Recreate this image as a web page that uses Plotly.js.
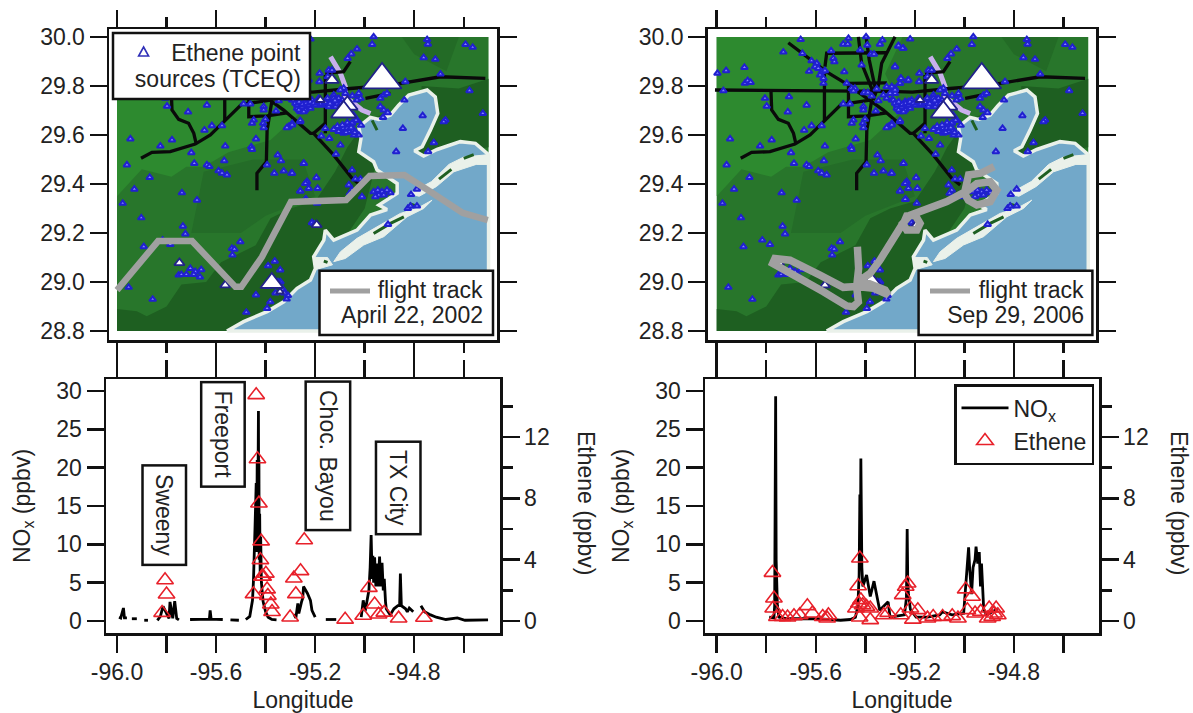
<!DOCTYPE html>
<html><head><meta charset="utf-8">
<script src="https://cdn.plot.ly/plotly-3.0.1.min.js"></script>
<style>html,body{margin:0;padding:0;background:#fff}</style></head>
<body><div id="chart" style="width:1193px;height:713px"></div>
<script>
// ---------- map geography (lon / lat) ----------
const baseLon=[-96,-94.5,-94.5,-96,-96], baseLat=[30,30,28.8,28.8,30];
const lightLon=[-96,-95.25,-95.32,-95.25,-95.38,-95.55,-95.65,-95.72,-95.78,-95.9,-96,-96];
const lightLat=[30,30,29.85,29.7,29.58,29.53,29.47,29.47,29.43,29.46,29.35,30];
const shadeLon=[-95.65,-95.45,-95.25,-95.2,-95.4,-95.5,-95.7,-95.65];
const shadeLat=[29.45,29.5,29.5,29.35,29.27,29.2,29.2,29.45];
const darkLon=[-96,-96,-95.92,-95.88,-95.8,-95.74,-95.64,-95.58,-95.44,-95.38,-95.3,-95.2,-95.12,-95.07,-95.0,-94.9,-95,-95.2,-95.56,-96];
const darkLat=[28.8,28.89,28.88,28.86,28.9,28.99,29,29.08,29.15,29.26,29.3,29.33,29.45,29.55,29.65,29.7,29.3,29,28.8,28.8];
const eastLon=[-94.77,-94.62,-94.5,-94.5,-94.8,-94.77];
const eastLat=[29.8,29.79,29.83,29.55,29.5,29.8];
const neLon=[-94.85,-94.62,-94.67,-94.8,-94.85];
const neLat=[30,30,29.86,29.93,30];
const waterLon=[-95.556,-95.489,-95.394,-95.327,-95.273,-95.219,-95.199,-95.206,-95.165,-95.159,-95.125,-95.031,-94.977,-94.91,-94.943,-94.869,-94.869,-94.95,-94.964,-95.024,-95.015,-95.024,-94.977,-94.943,-94.896,-94.863,-94.822,-94.748,-94.715,-94.705,-94.735,-94.768,-94.799,-94.762,-94.708,-94.614,-94.553,-94.517,-94.5,-94.5,-95.556];
const waterLat=[28.8,28.838,28.879,28.919,28.974,29.008,29.055,29.103,29.171,29.212,29.171,29.212,29.273,29.296,29.314,29.362,29.402,29.457,29.491,29.532,29.586,29.634,29.672,29.664,29.682,29.722,29.763,29.784,29.756,29.688,29.62,29.552,29.536,29.514,29.541,29.573,29.566,29.532,29.52,28.8,28.8];
const galvestonLon=[-94.728,-94.789,-94.856,-94.95,-95.031,-95.098,-95.125,-95.078,-95.004,-94.923,-94.829,-94.762,-94.728];
const galvestonLat=[29.334,29.3,29.28,29.225,29.178,29.123,29.083,29.096,29.151,29.185,29.266,29.3,29.334];
const bolivarLon=[-94.5,-94.6,-94.66,-94.73,-94.82,-94.78,-94.71,-94.64,-94.55,-94.5,-94.5];
const bolivarLat=[29.52,29.51,29.48,29.41,29.36,29.35,29.39,29.45,29.48,29.48,29.52];
const sanLuisLon=[-95.2,-95.15,-95.13,-95.2,-95.2], sanLuisLat=[29.1,29.1,29.07,29.05,29.1];
const islandLon=[-94.842,-94.896,-94.964,null,-94.6,-94.56,null,-94.7,-94.65,null,-94.97,-94.95,null,-94.82,-94.79,null,-95.165,-95.15];
const islandLat=[29.266,29.239,29.198,null,29.505,29.52,null,29.42,29.46,null,29.66,29.62,null,29.32,29.31,null,29.085,29.08];
const channelLon=[-95.138,-95.098,-95.078,-95.078,-95.011,-94.977];
const channelLat=[29.92,29.852,29.797,29.756,29.702,29.688];
const roadLon=[-96.007,-95.46,-95.3,-95.21,-95.12,-95.058,-94.896,-94.762,-94.694,-94.513,null,
 -95.711,-95.657,-95.556,-95.468,-95.381,-95.327,-95.219,-95.206,-95.125,-95.051,-95.017,null,
 -95.903,-95.859,-95.785,-95.684,-95.623,-95.563,-95.495,-95.462,-95.381,null,
 -95.781,-95.778,-95.751,-95.711,-95.69,-95.68,null,-95.565,-95.565,null,
 -95.374,-95.394,-95.397,-95.435,-95.435,null,-95.428,-95.415,-95.374,-95.368,null,
 -95.397,-95.384,-95.361,-95.368,null,-95.28,-95.334,-95.347,-95.368,null,
 -95.468,-95.468,-95.394,-95.314,null,-95.468,-95.313,null,-95.563,-95.556,-95.314,null,
 -95.159,-95.159,null,-95.206,-95.159,null,-95.159,-95.085,-95.058,null,-94.997,-94.896];
const roadLat=[29.784,29.781,29.778,29.775,29.782,29.79,29.804,29.828,29.838,29.831,null,
 29.977,29.936,29.858,29.804,29.743,29.702,29.607,29.607,29.518,29.423,29.396,null,
 29.505,29.529,29.532,29.563,29.6,29.661,29.727,29.73,29.743,null,
 29.784,29.702,29.664,29.648,29.607,29.563,null,29.852,29.661,null,
 29.743,29.62,29.491,29.444,29.375,null,30.001,29.893,29.79,29.743,null,
 30.001,29.906,29.797,29.743,null,30.001,29.893,29.804,29.743,null,
 29.811,29.675,29.678,29.691,null,29.811,29.813,null,29.879,29.934,29.936,null,
 29.845,29.607,null,29.607,29.648,null,29.852,29.859,29.9,null,29.75,29.77];
// ---------- ethene point sources ----------
const sourceLon=[-95.997,-95.962,-95.888,-95.886,-95.875,-95.863,-95.973,-95.731,-95.661,-95.654,-95.617,-95.596,-95.603,-95.59,-95.576,-95.583,-95.569,-95.569,-95.627,-95.563,-95.538,-95.529,-95.525,-95.485,-95.489,-95.471,-95.468,-95.397,-95.392,-95.341,-95.331,-95.421,-95.377,-95.365,-95.415,-95.267,-95.246,-95.28,-95.257,-95.26,-95.23,-95.475,-95.455,-95.442,-95.448,-95.405,-95.39,-95.354,-95.374,-95.347,-95.314,-95.293,-95.28,-95.327,-95.314,-95.293,-95.28,-95.267,-95.253,-95.24,-95.226,-95.273,-95.26,-95.24,-95.219,-95.805,-95.798,-95.708,-95.637,-95.713,-95.647,-95.617,-95.576,-95.489,-95.462,-95.408,-95.408,-95.358,-95.448,-95.455,-95.401,-95.41,-95.408,-95.293,-95.307,-95.314,-95.26,-95.946,-95.778,-95.825,-95.439,-95.563,-95.458,-95.455,-95.7,-95.351,-95.338,-95.246,-95.96,-95.688,-95.637,-95.627,-95.567,-95.394,-95.868,-95.59,-95.576,-95.556,-95.365,-95.327,-95.296,-95.233,
 -95.219,-95.266,-95.249,-95.28,-95.031,-95.054,-95.069,-94.964,-94.97,-94.748,-94.745,-94.593,-94.564,-94.762,-94.715,-94.694,-94.836,-94.577,-94.84,-94.523,-94.766,-94.674,-94.681,-94.846,-94.721,-94.873,-94.744,-95.182,-95.256,-95.226,-95.183,-95.145,-95.132,-95.149,-95.293,-95.28,-95.3,-95.26,
 -95.287,-95.273,-95.253,-95.239,-95.226,-95.213,-95.199,-95.186,-95.172,-95.159,-95.145,-95.132,-95.118,-95.105,-95.091,-95.078,-95.085,-95.098,-95.125,-95.266,-95.246,-95.024,-95.017,-95.031,-94.937,-94.923,-94.91,-94.937,-94.923,-94.907,-94.926,-95.125,-95.105,-95.085,-95.064,-95.051,-95.085,-95.064,-95.044,-95.024,-95.044,-95.071,-95.159,-95.175,-95.143,-95.26,-95.293,-95.098,-95.116,-95.246,-95.293,-95.195,-95.233,-95.051,-95.038,-95.017,
 -95.93,-95.738,-95.677,-95.977,-95.902,-95.734,-95.724,-95.816,-95.785,-95.892,-95.536,-95.526,-95.534,-95.502,-95.953,-95.856,-95.478,-95.394,-95.381,-95.394,-95.439,-95.39,-95.363,-95.341,-95.26,-95.24,-95.237,-95.751,-95.704,-95.684,-95.74,-95.72,-95.69,-95.66,-95.665,-95.34,-95.33,-95.31,
 -94.964,-94.947,-94.93,-94.91,-94.896,-94.943,-94.957,-94.923,-95.064,-95.051,-95.06,-95.239,-95.226,-95.26,-95.19,-95.239,-95.192,-95.011,-95.213,-95.203,-94.789,-94.813,-94.826,-94.815,-94.789,-94.906,
 -95.28,-95.265,-95.25,-95.235,-95.22,-95.205,-95.19,-95.175,-95.16,-95.15,-95.14,-95.125,-95.11,-95.095,-95.08,-95.065,-95.05,-95.06,-95.09,-95.12,-95.1,-95.08,-95.06,-95.045,-95.03,-95.11,-95.09,-95.07,-95.05,-95.035,-95.015,-95.055,-95.04,-95.075,-95.36,-95.325,-95.315,-95.35];
const sourceLat=[29.852,29.863,29.876,29.811,29.822,29.815,29.781,29.939,29.99,29.933,29.903,29.893,29.879,29.872,29.858,29.845,29.831,29.811,29.86,29.863,29.944,29.913,29.899,29.858,29.971,29.971,29.995,30.001,29.967,29.971,29.988,29.947,29.93,29.93,29.886,29.963,29.954,29.879,29.831,29.811,29.822,29.811,29.79,29.79,29.78,29.773,29.773,29.788,29.759,29.74,29.797,29.797,29.79,29.763,29.75,29.743,29.77,29.73,29.716,29.722,29.736,29.709,29.695,29.702,29.709,29.75,29.718,29.756,29.722,29.694,29.62,29.638,29.638,29.727,29.727,29.716,29.702,29.698,29.661,29.648,29.664,29.648,29.63,29.648,29.634,29.63,29.654,29.584,29.58,29.555,29.584,29.555,29.552,29.541,29.528,29.518,29.495,29.484,29.478,29.484,29.478,29.471,29.495,29.478,29.427,29.454,29.444,29.437,29.444,29.453,29.444,29.41,
 29.992,29.965,29.954,29.879,29.951,29.931,29.913,30.001,29.97,29.99,29.971,29.97,29.958,29.916,29.909,29.849,29.818,29.781,29.743,29.688,29.679,29.661,29.654,29.627,29.569,29.532,29.532,29.852,29.831,29.825,29.818,29.865,29.865,29.838,29.797,29.784,29.77,29.811,
 29.743,29.722,29.716,29.736,29.722,29.743,29.722,29.75,29.722,29.736,29.716,29.736,29.716,29.75,29.743,29.77,29.791,29.784,29.763,29.702,29.695,29.77,29.75,29.743,29.75,29.763,29.77,29.716,29.702,29.691,29.672,29.623,29.614,29.627,29.641,29.648,29.607,29.614,29.621,29.6,29.6,29.627,29.627,29.596,29.586,29.659,29.641,29.559,29.522,29.484,29.444,29.426,29.407,29.457,29.42,29.42,
 29.379,29.364,29.334,29.321,29.262,29.228,29.196,29.171,29.153,29.144,29.137,29.134,29.11,29.164,28.978,28.929,28.876,28.892,28.919,28.981,28.947,29.066,29.085,29.049,29.371,29.402,29.338,29.028,29.055,29.042,29.03,29.03,29.03,29.05,29.02,29,28.97,28.945,
 29.368,29.375,29.368,29.375,29.364,29.355,29.348,29.355,29.396,29.375,29.362,29.402,29.382,29.371,29.382,29.337,29.321,29.348,29.242,29.236,29.379,29.357,29.3,29.31,29.31,29.235,
 29.73,29.735,29.725,29.73,29.735,29.73,29.735,29.728,29.733,29.75,29.728,29.75,29.728,29.73,29.73,29.74,29.76,29.72,29.72,29.74,29.7,29.71,29.69,29.68,29.66,29.635,29.64,29.65,29.65,29.66,29.64,29.63,29.61,29.61,28.955,28.955,28.93,29];
const majorLon=[-94.93,-95.07,-95.085,-95.132,-95.179,-95.563,-95.375,-95.748,-95.194,-95.342];
const majorLat=[29.825,29.722,29.694,29.825,29.743,28.987,28.996,29.078,29.233,28.96];
const majorEmission=[34,18,22,12,8,9,20,9,9,7];
// ---------- flight tracks ----------
const track2002Lon=[-96,-95.834,-95.697,-95.522,-95.498,-95.415,-95.298,-95.075,-94.98,-94.84,-94.733,-94.604,-94.503];
const track2002Lat=[28.967,29.167,29.167,28.98,28.98,29.102,29.327,29.335,29.433,29.437,29.367,29.282,29.253];
const track2006Lon=[-95.432,-95.427,-95.435,-95.428,-95.448,-95.475,-95.569,-95.751,-95.774,-95.765,-95.704,-95.583,-95.489,-95.435,-95.367,-95.307,-95.32,-95.421,-95.381,-95.341,-95.287,-95.253,-95.246,-95.233,-95.199,-95.179,-95.192,-95.233,-95.249,-95.219,-95.071,-95.003,-94.984,-94.95,-94.896,-94.869,-94.896,-94.95,-94.984,-95,-94.992,-94.983,-94.934,-94.88];
const track2006Lat=[29.144,29.055,28.981,28.919,28.899,28.902,28.96,29.06,29.076,29.096,29.089,29.028,28.978,28.981,28.974,28.947,28.967,29.008,29.035,29.089,29.185,29.232,29.239,29.269,29.273,29.239,29.212,29.212,29.239,29.273,29.328,29.362,29.375,29.402,29.409,29.375,29.328,29.314,29.334,29.362,29.417,29.437,29.444,29.471];
// ---------- NOx and ethene along the flights ----------
const nox2002Lon=[-95.992,-95.985,-95.974,-95.97,-95.96,null,-95.94,-95.92,null,-95.89,-95.875,null,-95.837,-95.825,-95.814,-95.803,-95.79,-95.786,-95.775,-95.767,-95.759,-95.75,null,-95.705,-95.666,-95.627,-95.624,-95.62,-95.573,null,-95.542,-95.508,null,-95.48,-95.464,-95.453,-95.449,-95.443,-95.44,-95.438,-95.436,-95.434,-95.432,-95.43,-95.429,-95.428,-95.427,-95.426,-95.424,-95.422,-95.42,-95.417,-95.41,-95.4,-95.39,-95.375,-95.356,null,-95.286,-95.278,-95.27,-95.266,-95.255,-95.25,-95.247,-95.231,-95.219,-95.213,-95.2,null,-95.157,-95.115,null,-95.014,-95.006,-94.998,-94.991,-94.983,-94.978,-94.974,-94.97,-94.967,-94.964,-94.96,-94.955,-94.95,-94.946,-94.94,-94.935,-94.93,-94.925,-94.921,-94.916,-94.913,-94.897,-94.882,-94.866,-94.859,-94.856,-94.852,-94.835,-94.828,-94.82,-94.804,null,-94.773,-94.758,-94.734,-94.711,-94.672,-94.626,-94.595,-94.502];
const nox2002=[0.5,0.4,1.7,0.4,0.4,null,0.3,0.3,null,0.1,0.1,null,0.1,0.6,1.9,1.2,0.35,2.5,0.35,2.6,0.35,0.15,null,0.2,0.2,0.25,1.4,0.25,0.2,null,0.15,0.1,null,0.2,0.6,2.7,5.3,12,15,18,9,21,11,21,27.4,14,21,8,14,6,11,5,2.5,1.2,0.5,0.2,0.15,null,0.9,0.4,2.3,1,2.5,3,4.5,3.6,2.7,1.4,0.5,null,0.2,0.2,null,0.5,2.7,1.3,2.7,4,7,11.2,5.5,8.5,5,8.3,4.5,7.5,4.5,8.4,4.5,7.6,4,5.5,2.5,1.6,0.8,1.6,2,2,6.2,2,1.6,1.2,1.7,1.2,null,2,1.2,0.8,0.5,0.2,0.4,0.1,0.15];
const nox2006Lon=[-95.788,-95.769,-95.766,-95.765,-95.763,-95.762,-95.76,-95.758,-95.755,-95.749,-95.72,-95.66,-95.6,-95.55,-95.5,-95.46,-95.44,-95.43,-95.425,-95.422,-95.42,-95.418,-95.414,-95.41,-95.395,-95.38,-95.365,-95.35,-95.342,-95.327,-95.308,-95.3,-95.242,-95.234,-95.231,-95.229,-95.226,-95.218,-95.195,-95.15,-95.1,-95.088,-95.05,-95.003,-94.995,-94.988,-94.983,-94.979,-94.975,-94.971,-94.965,-94.957,-94.953,-94.946,-94.94,-94.935,-94.931,-94.926,-94.922,-94.91,-94.865];
const nox2006=[0.5,0.4,2,7,13.5,29.3,8,3,2,0.5,0.3,0.3,0.3,0.2,0.1,0.2,0.5,2,6,16.5,8,21.2,7,4.5,6,3.2,5.2,2.7,1.4,1.9,2.5,0.5,0.8,3,12,6,3.5,1.5,0.5,0.5,0.8,1.2,0.8,1,5,8,9.6,7,5,3.5,7,8,9.7,7.5,9,4.5,7.5,2.5,1.5,0.8,1.6];
const ethene2002Lon=[-95.806,-95.8,-95.818,-95.438,-95.433,-95.427,-95.418,-95.421,-95.399,-95.41,-95.415,-95.449,-95.394,-95.391,-95.379,-95.374,-95.301,-95.244,-95.259,-95.286,-95.278,-95.079,-95.006,-94.983,-94.96,-94.944,-94.921,-94.863,-94.761];
const ethene2002=[2.67,1.74,0.54,14.74,10.56,7.67,5.2,3.98,3.1,2.9,2.9,1.76,2.07,1.65,1.09,0.6,0.24,5.28,3.26,2.78,1.76,0.1,0.35,2.17,1.09,0.43,0.56,0.17,0.22];
const ethene2006Lon=[-95.775,-95.769,-95.772,-95.757,-95.734,-95.714,-95.688,-95.665,-95.634,-95.614,-95.572,-95.554,-95.549,-95.422,-95.429,-95.438,-95.426,-95.418,-95.411,-95.395,-95.38,-95.423,-95.38,-95.326,-95.308,-95.257,-95.229,-95.237,-95.249,-95.218,-95.188,-95.208,-95.149,-95.126,-95.088,-95.049,-95.026,-94.995,-94.969,-94.988,-94.957,-94.934,-94.906,-94.9,-94.88,-94.865,-94.872,-94.888];
const ethene2006=[3.15,1.48,0.83,0.28,0.28,0.24,0.33,0.39,0.98,0.5,0.28,0.17,0.39,4.09,2.28,0.83,1.15,1.37,1.04,0.93,0.83,0.24,0.07,0.39,0.54,0.39,2.46,2.24,1.7,0.83,0.72,0.1,0.17,0.28,0.28,0.33,0.17,2.07,1.59,0.72,0.5,0.61,0.17,0.83,0.5,0.39,0.83,0.28];
// ---------- labels ----------
const lonTickValues=[-96,-95.6,-95.2,-94.8];
const lonTickLabels=['-96.0','-95.6','-95.2','-94.8'];
const plumeLabels=['Sweeny','Freeport','Choc. Bayou','TX City'];
const plumeLon=[-95.81,-95.572,-95.148,-94.865];
const plumeNox=[13.8,24.4,21.6,17.4];

const W=1193,H=713, TXT='#222', FONT='Liberation Sans, Arial, sans-serif', LW=2.5;
const PX=x=>x/W, PY=y=>1-y/H;
const C={light:'#2d8a2f',mid:'#28762b',shade:'#246c28',dark:'#1e5f21',ne:'#236b26',water:'#72a8c9',coast:'#eaf1ea',track:'#a0a0a0',road:'#0a0a0a',channel:'#c9b0ec',src:'#2020d0',red:'#e8202a'};

function poly(lon,lat,color,xa,ya,line){return {type:'scatter',mode:'lines',x:lon,y:lat,xaxis:xa,yaxis:ya,fill:'toself',fillcolor:color,line:line||{width:0,color:color},hoverinfo:'skip',showlegend:false};}
function stroke(lon,lat,color,w,xa,ya){return {type:'scatter',mode:'lines',x:lon,y:lat,xaxis:xa,yaxis:ya,line:{color:color,width:w,shape:'linear'},connectgaps:false,hoverinfo:'skip',showlegend:false};}
function mapTraces(xa,ya,tLon,tLat,tw){return [
 poly(baseLon,baseLat,C.mid,xa,ya),poly(lightLon,lightLat,C.light,xa,ya),poly(shadeLon,shadeLat,C.shade,xa,ya),poly(darkLon,darkLat,C.dark,xa,ya),
 poly(eastLon,eastLat,C.dark,xa,ya),poly(neLon,neLat,C.ne,xa,ya),
 poly(waterLon,waterLat,C.water,xa,ya,{color:C.coast,width:3.5}),
 poly(galvestonLon,galvestonLat,C.coast,xa,ya,{color:C.coast,width:1}),
 poly(bolivarLon,bolivarLat,C.coast,xa,ya,{color:C.coast,width:1}),
 poly(sanLuisLon,sanLuisLat,C.coast,xa,ya,{color:C.coast,width:1}),
 stroke(islandLon,islandLat,C.dark,3,xa,ya),
 stroke(channelLon,channelLat,C.channel,5,xa,ya),
 stroke(roadLon,roadLat,C.road,3.3,xa,ya),
 {type:'scatter',mode:'markers',x:sourceLon,y:sourceLat,xaxis:xa,yaxis:ya,hoverinfo:'skip',showlegend:false,
  marker:{symbol:'triangle-up',size:6,opacity:1,color:'#8585ff',line:{color:C.src,width:2}}},
 {type:'scatter',mode:'markers',x:majorLon,y:majorLat,xaxis:xa,yaxis:ya,hoverinfo:'skip',showlegend:false,
  marker:{symbol:'triangle-up',size:majorEmission,opacity:1,color:'#fff',line:{color:'#22228a',width:1.8}}},
 stroke(tLon,tLat,C.track,tw,xa,ya)
];}
function series(lon,nox,eLon,e,xa,ya,ye,legend){return [
 {type:'scatter',mode:'lines',name:'NO<sub>x</sub>',x:lon,y:nox,xaxis:xa,yaxis:ya,line:{color:'#000',width:2.8},hoverinfo:'skip',showlegend:legend},
 {type:'scatter',mode:'markers',name:'Ethene',x:eLon,y:e,xaxis:xa,yaxis:ye,hoverinfo:'skip',showlegend:legend,
  marker:{symbol:'triangle-up-open',size:14.5,color:C.red,line:{color:C.red,width:1.6}}}
];}
const data=[...mapTraces('x','y',track2002Lon,track2002Lat,6.5),...mapTraces('x3','y4',track2006Lon,track2006Lat,7.5),
 ...series(nox2002Lon,nox2002,ethene2002Lon,ethene2002,'x2','y2','y3',false),
 ...series(nox2006Lon,nox2006,ethene2006Lon,ethene2006,'x4','y5','y6',true)];

const tf={family:FONT,size:23,color:TXT};
function xAxis(l,r,labels,anchor){
 const a=(x)=>-96+(x-(l<600?117:716.7))/247.7;
 return {domain:[PX(l),PX(r)],range:[a(l),a(r)],anchor:anchor,showgrid:false,zeroline:false,showline:true,linewidth:LW,linecolor:'#111',mirror:'allticks',
  ticks:'outside',ticklen:17,tickwidth:LW,tickcolor:'#111',tickmode:'array',tickvals:lonTickValues,ticktext:lonTickLabels,showticklabels:labels,tickfont:tf,
  minor:{ticks:'outside',ticklen:10,tickwidth:LW,tickcolor:'#111',tick0:-96,dtick:0.2,showgrid:false},
  title:labels?{text:'Longitude',font:tf,standoff:8}:undefined};
}
function mapY(anchor){return {domain:[PY(340),PY(29)],range:[28.763,30.033],anchor:anchor,showgrid:false,zeroline:false,showline:true,linewidth:LW,linecolor:'#111',mirror:'allticks',
 ticks:'outside',ticklen:17,tickwidth:LW,tickcolor:'#111',tick0:28.8,dtick:0.2,tickformat:'.1f',tickfont:tf};}
function noxY(anchor){return {domain:[PY(633),PY(379)],range:[-1.56,31.56],anchor:anchor,showgrid:false,zeroline:false,showline:true,linewidth:LW,linecolor:'#111',
 ticks:'outside',ticklen:17,tickwidth:LW,tickcolor:'#111',tick0:0,dtick:5,tickfont:tf,title:{text:'NO<sub>x</sub> (ppbv)',font:tf,standoff:20}};}
function ethY(over,anchor){return {domain:[PY(633),PY(379)],range:[-0.78,15.78],overlaying:over,anchor:anchor,side:'right',showgrid:false,zeroline:false,showline:true,linewidth:LW,linecolor:'#111',
 ticks:'outside',ticklen:17,tickwidth:LW,tickcolor:'#111',tick0:0,dtick:4,tickfont:tf,
 minor:{ticks:'outside',ticklen:10,tickwidth:LW,tickcolor:'#111',tick0:0,dtick:2,showgrid:false}};}

function rect(x0,y0,x1,y1){return {type:'rect',xref:'paper',yref:'paper',x0:PX(x0),x1:PX(x1),y0:PY(y1),y1:PY(y0),layer:'above',fillcolor:'#fff',line:{color:'#111',width:2.5}};}
function keyLine(x0,x1,y){return {type:'line',xref:'paper',yref:'paper',x0:PX(x0),x1:PX(x1),y0:PY(y),y1:PY(y),layer:'above',line:{color:C.track,width:5}};}
function txt(s,xr,y,w){return {text:s,xref:'paper',yref:'paper',x:PX(xr),y:PY(y),xanchor:'right',yanchor:'middle',align:'right',width:w,showarrow:false,font:tf};}
const cx=143.6,cy=52;
const shapes=[rect(113,33,310,99),rect(319.5,270.7,493,335),keyLine(330,370,291),rect(918.6,270.7,1092.4,335),keyLine(930,970,291),
 {type:'path',xref:'paper',yref:'paper',layer:'above',fillcolor:'#fff',line:{color:'#3030b8',width:1.6},
  path:`M ${PX(cx-5)} ${PY(cy+4)} L ${PX(cx+5)} ${PY(cy+4)} L ${PX(cx)} ${PY(cy-5)} Z`}];
const plumeSize=[[95,39],[100,39],[144,40],[88,40]];
const annotations=[txt('Ethene point',303,53,170),txt('sources (TCEQ)',303,79,180),txt('flight track',485,290,115),txt('April 22, 2002',485,315,160),txt('flight track',1086,290,115),txt('Sep 29, 2006',1086,315,160),
 {text:'Ethene (ppbv)',xref:'paper',yref:'paper',x:PX(586),y:PY(503),textangle:90,showarrow:false,font:tf,xanchor:'center',yanchor:'middle'},
 {text:'Ethene (ppbv)',xref:'paper',yref:'paper',x:PX(1179),y:PY(503),textangle:90,showarrow:false,font:tf,xanchor:'center',yanchor:'middle'},
 ...plumeLabels.map((s,i)=>({text:s,x:plumeLon[i],y:plumeNox[i],xref:'x2',yref:'y2',textangle:90,showarrow:false,font:tf,bgcolor:'#fff',bordercolor:'#111',borderwidth:2.5,width:plumeSize[i][0],height:plumeSize[i][1],xanchor:'center',yanchor:'middle'}))];

const layout={width:W,height:H,margin:{l:0,r:0,t:0,b:0},paper_bgcolor:'#fff',plot_bgcolor:'#fff',font:tf,
 xaxis:xAxis(109,497,false,'y'),yaxis:mapY('x'),
 xaxis2:xAxis(106,500,true,'y2'),yaxis2:noxY('x2'),yaxis3:ethY('y2','x2'),
 xaxis3:xAxis(707.6,1096,false,'y4'),yaxis4:mapY('x3'),
 xaxis4:xAxis(705,1099,true,'y5'),yaxis5:noxY('x4'),yaxis6:ethY('y5','x4'),
 shapes:shapes,annotations:annotations,
 legend:{x:PX(954),y:PY(384),xanchor:'left',yanchor:'top',bgcolor:'#fff',bordercolor:'#111',borderwidth:2.5,font:tf,itemwidth:47,tracegroupgap:0}
};
Plotly.newPlot('chart',data,layout,{displayModeBar:false,staticPlot:true});
</script></body></html>
